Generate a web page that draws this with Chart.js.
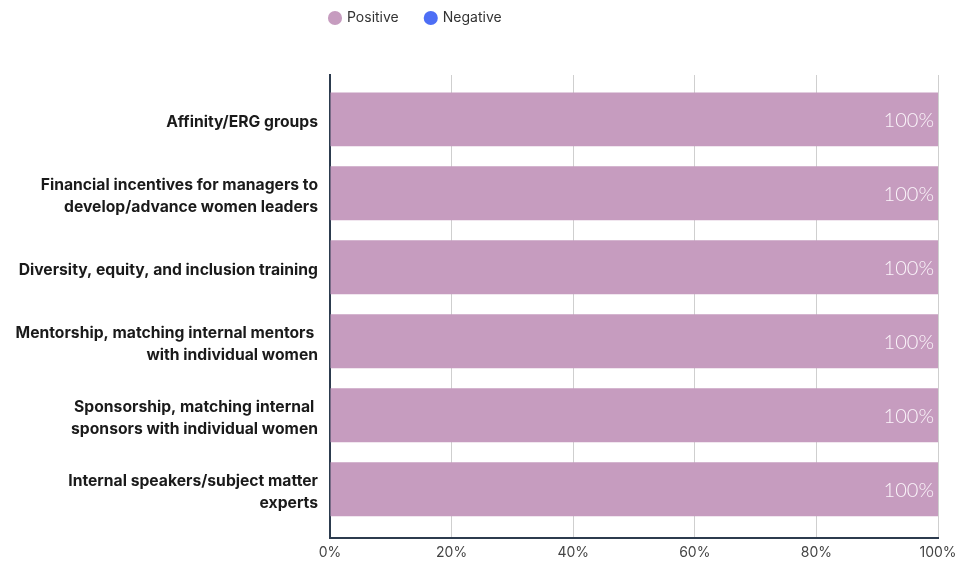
<!DOCTYPE html>
<html>
<head>
<meta charset="utf-8">
<script src="https://cdn.jsdelivr.net/npm/chart.js@4/dist/chart.umd.min.js"></script>
<style>
  html, body { margin: 0; padding: 0; background: #fff; }
  #wrap { width: 972px; height: 562px; position: relative; }
</style>
</head>
<body>
<div id="wrap"><canvas id="programChart"></canvas></div>
<script>
// Categories and series values
var programs = [
  'Affinity/ERG groups',
  ['Financial incentives for managers to', 'develop/advance women leaders'],
  'Diversity, equity, and inclusion training',
  ['Mentorship, matching internal mentors ', 'with individual women'],
  ['Sponsorship, matching internal ', 'sponsors with individual women'],
  ['Internal speakers/subject matter', 'experts']
];
var positiveShare = [100, 100, 100, 100, 100, 100];
var negativeShare = [0, 0, 0, 0, 0, 0];
var percentTicks = [0, 20, 40, 60, 80, 100];

var AXIS_DARK = '#2c3b4e';

// Writes the value inside the right end of each Positive bar
var barValueLabels = {
  id: 'barValueLabels',
  afterDatasetsDraw: function (chart) {
    var ctx = chart.ctx;
    var meta = chart.getDatasetMeta(0);
    ctx.save();
    ctx.font = '300 20px Lato, "Open Sans", sans-serif';
    ctx.fillStyle = '#fbf5fa';
    ctx.textAlign = 'right';
    ctx.textBaseline = 'middle';
    meta.data.forEach(function (bar, i) {
      ctx.fillText(positiveShare[i] + '%', bar.x - 4, bar.y + 1);
    });
    ctx.restore();
  }
};

// Moves the legend so it starts just left of the plot area
var legendShift = {
  id: 'legendShift',
  afterLayout: function (chart) {
    var lg = chart.legend;
    var w = lg.right - lg.left;
    lg.left = chart.chartArea.left - 27;
    lg.right = lg.left + w;
    lg.top = -16;
  }
};

var ctx = document.getElementById('programChart').getContext('2d');
new Chart(ctx, {
  type: 'bar',
  data: {
    labels: programs,
    datasets: [{
      label: 'Positive',
      data: positiveShare,
      backgroundColor: '#c69cbf',
      barPercentage: 0.73,
      categoryPercentage: 1
    }, {
      label: 'Negative',
      data: negativeShare,
      backgroundColor: '#4d6ef5',
      barPercentage: 0.73,
      categoryPercentage: 1
    }]
  },
  options: {
    indexAxis: 'y',
    responsive: true,
    maintainAspectRatio: false,
    animation: false,
    layout: { padding: { top: 24, right: 34, bottom: 0, left: 0 } },
    plugins: {
      tooltip: { enabled: false },
      legend: {
        position: 'top',
        align: 'start',
        labels: {
          usePointStyle: true,
          pointStyle: 'circle',
          boxWidth: 10,
          boxHeight: 10,
          padding: 27,
          color: '#333',
          font: { family: 'Inter, Roboto, sans-serif', size: 14 }
        }
      }
    },
    scales: {
      x: {
        stacked: true,
        min: 0,
        max: 100,
        afterBuildTicks: function (scale) {
          scale.ticks = percentTicks.map(function (v) { return { value: v }; });
        },
        afterFit: function (scale) { scale.height = 24; },
        grid: { color: '#cfcfcf', lineWidth: 1, drawTicks: false },
        border: { display: true, color: AXIS_DARK, width: 2 },
        ticks: {
          padding: 6,
          color: '#444',
          font: { family: 'Inter, Roboto, sans-serif', size: 14 },
          callback: function (v) { return v + '%'; }
        }
      },
      y: {
        stacked: true,
        // a little extra room above the first and below the last category
        afterBuildTicks: function (scale) {
          scale._startValue -= 0.1;
          scale._valueRange += 0.26;
        },
        afterFit: function (scale) { scale.width = 330; },
        grid: { display: false, drawTicks: false },
        border: { display: true, color: AXIS_DARK, width: 2 },
        ticks: {
          padding: 12,
          labelOffset: 3,
          color: '#1a1a1a',
          font: { family: 'Inter, Roboto, sans-serif', size: 15.7, weight: 'bold', lineHeight: 1.4 }
        }
      }
    }
  },
  plugins: [barValueLabels, legendShift]
});
</script>
</body>
</html>
